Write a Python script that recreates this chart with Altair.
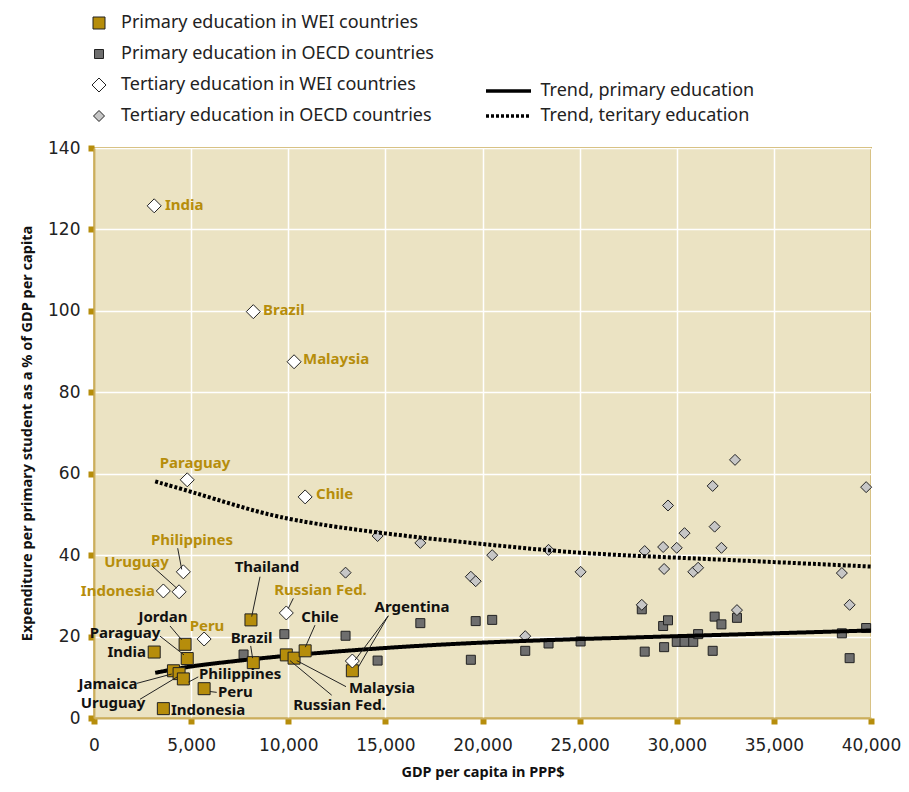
import altair as alt
import pandas as pd

# ---------------- data ----------------
groups = [
    "Primary education in WEI countries",
    "Primary education in OECD countries",
    "Tertiary education in WEI countries",
    "Tertiary education in OECD countries",
]
trends = ["Trend, primary education", "Trend, teritary education"]

wei_countries = ["India", "Indonesia", "Jamaica", "Uruguay", "Philippines", "Jordan", "Paraguay",
                 "Peru", "Thailand", "Brazil", "Russian Fed.", "Malaysia", "Chile", "Argentina"]
wei_gdp = [3100, 3570, 4090, 4380, 4600, 4690, 4800, 5670, 8080, 8200, 9900, 10300, 10870, 13300]
wei_primary = [16.2, 2.3, 11.6, 10.9, 9.6, 18.1, 14.6, 7.2, 24.1, 13.6, 15.5, 14.7, 16.5, 11.6]
wei_tertiary = [125.8, 31.2, None, 31.0, 35.9, None, 58.5, 19.4, None, 99.8, 25.8, 87.5, 54.3, 14.0]

oecd_primary_gdp = [7700, 9800, 12950, 14600, 16800, 19400, 19650, 20500, 22200, 23400, 25050,
                    28200, 28350, 29300, 29350, 29550, 30000, 30400, 30850, 31100, 31850, 31950,
                    32300, 33100, 38500, 38900, 39750]
oecd_primary = [15.6, 20.6, 20.2, 14.1, 23.3, 14.3, 23.8, 24.1, 16.5, 18.3, 18.8,
                26.7, 16.3, 22.6, 17.4, 24.0, 18.7, 18.7, 18.7, 20.6, 16.5, 24.9,
                23.0, 24.6, 20.8, 14.7, 22.1]

oecd_tertiary_gdp = [12950, 14600, 16800, 19400, 19650, 20500, 22200, 23400, 25050, 28200, 28350,
                     29300, 29350, 29550, 30000, 30400, 30850, 31100, 31850, 31950, 32300, 33000,
                     33100, 38500, 38900, 39750]
oecd_tertiary = [35.7, 44.7, 43.0, 34.7, 33.6, 40.0, 20.1, 41.3, 35.9, 27.8, 41.0,
                 42.0, 36.6, 52.2, 41.8, 45.4, 35.9, 36.9, 57.0, 47.0, 41.8, 63.4,
                 26.5, 35.6, 27.8, 56.7]

trend_gdp = [3150, 5000, 7500, 10000, 15000, 20000, 25000, 30000, 35000, 40000]
trend_primary = [11.1, 12.8, 14.1, 15.4, 17.3, 18.6, 19.4, 20.1, 20.8, 21.5]
trend_tertiary = [58.1, 55.6, 51.9, 48.6, 45.2, 42.7, 40.4, 39.4, 38.3, 37.2]

# annotation labels (data coordinates), colour kind, alignment
label_text = ["India", "Brazil", "Malaysia", "Chile", "Paraguay", "Philippines", "Uruguay",
              "Indonesia", "Russian Fed.", "Peru",
              "Thailand", "Jordan", "Paraguay", "India", "Jamaica", "Uruguay", "Philippines",
              "Peru", "Indonesia", "Brazil", "Chile", "Russian Fed.", "Malaysia", "Argentina"]
label_x = [3655, 8700, 10759, 11429, 5199, 5045, 2188, 3140, 11660, 5817,
           8906, 3552, 1596, 2677, 721, 978, 5405, 6384, 3964, 8108, 11634, 12638, 14826, 16371]
label_y = [126.0, 100.1, 88.2, 55.0, 62.6, 43.7, 38.3, 31.2, 31.4, 22.6,
           37.1, 24.8, 20.9, 16.2, 8.3, 3.8, 10.9, 6.3, 1.9, 19.7, 24.9, 3.2, 7.3, 27.3]
label_kind = ["gold"] * 10 + ["black"] * 14
label_align = ["left", "left", "left", "left", "center", "center", "center", "right", "center", "center",
               "center", "center", "center", "right", "center", "center", "left", "left", "left",
               "center", "center", "center", "center", "center"]

# leader lines (data coordinates)
lead_x1 = [4309, 2970, 10260, 8546, 3912, 3398, 2198, 2368, 5369, 5972, 8067, 11377, 12237, 12973, 15150, 15150]
lead_y1 = [41.7, 37.4, 29.4, 34.7, 22.6, 20.1, 8.5, 4.6, 10.1, 6.5, 17.7, 22.8, 5.6, 7.7, 25.1, 25.1]
lead_x2 = [4515, 4257, 10002, 8118, 4515, 4633, 4000, 4288, 4855, 6317, 8165, 10878, 10090, 10435, 13436, 13606]
lead_y2 = [36.5, 31.9, 26.9, 24.9, 19.2, 15.5, 10.8, 10.1, 8.8, 6.3, 14.7, 17.4, 14.1, 14.1, 14.2, 12.5]

# ---------------- tables ----------------
rows = []
for c, g, p, t in zip(wei_countries, wei_gdp, wei_primary, wei_tertiary):
    rows.append({"gdp": g, "value": p, "group": groups[0], "country": c})
    if t is not None:
        rows.append({"gdp": g, "value": t, "group": groups[2], "country": c})
for g, v in zip(oecd_primary_gdp, oecd_primary):
    rows.append({"gdp": g, "value": v, "group": groups[1], "country": ""})
for g, v in zip(oecd_tertiary_gdp, oecd_tertiary):
    rows.append({"gdp": g, "value": v, "group": groups[3], "country": ""})
points = pd.DataFrame(rows)
points["wei"] = points["group"].isin([groups[0], groups[2]])

trend_df = pd.DataFrame(
    [{"gdp": g, "value": v, "trend": trends[0]} for g, v in zip(trend_gdp, trend_primary)]
    + [{"gdp": g, "value": v, "trend": trends[1]} for g, v in zip(trend_gdp, trend_tertiary)]
)

labels = pd.DataFrame({"text": label_text, "gdp": label_x, "value": label_y,
                       "kind": label_kind, "align": label_align})
leaders = pd.DataFrame({"gdp": lead_x1, "value": lead_y1, "gdp2": lead_x2, "value2": lead_y2})

# ---------------- styles ----------------
GOLD = "#B68D0B"
AXIS_GOLD = "#CBAE5C"
fills = [GOLD, "#6E6E6E", "#FFFFFF", "#C6C6C6"]
# symbol outlines (unit = half of sqrt(size))
shapes = [
    "M-1.2,-1.2H1.2V1.2H-1.2Z",
    "M-0.9,-0.9H0.9V0.9H-0.9Z",
    "M0,-1.4L1.4,0L0,1.4L-1.4,0Z",
    "M0,-1.1L1.1,0L0,1.1L-1.1,0Z",
]

xs = alt.Scale(domain=[0, 40000], nice=False, zero=False)
ys = alt.Scale(domain=[0, 140], nice=False, zero=False)

x_axis = alt.Axis(values=list(range(0, 40001, 5000)), format=",.0f", labelFont="DejaVu Sans",
                  labelFontSize=17, labelColor="#222", labelPadding=13, labelFlush=False,
                  labelOverlap=False, labelBound=False,
                  tickColor=GOLD, tickWidth=6, tickSize=6, domainColor=AXIS_GOLD, domainWidth=2,
                  gridColor="white", gridWidth=1.5, titleFont="Noto Sans", titleFontWeight="bold",
                  titleFontSize=14.5, titleColor="#111", titlePadding=12)
y_axis = alt.Axis(values=list(range(0, 141, 20)), labelFont="DejaVu Sans", labelFontSize=17,
                  labelColor="#222", labelPadding=8, labelFlush=False, tickColor=GOLD, tickWidth=6,
                  tickSize=6, domainColor=AXIS_GOLD, domainWidth=2, gridColor="white", gridWidth=1.5,
                  titleFont="Noto Sans", titleFontWeight="bold", titleFontSize=14.5,
                  titleColor="#111", titlePadding=13)

X = alt.X("gdp:Q", scale=xs, axis=x_axis, title="GDP per capita in PPP$")
Y = alt.Y("value:Q", scale=ys, axis=y_axis,
          title="Expenditure per primary student as a % of GDP per capita")

pt_legend = alt.Legend(title=None, orient="none", legendX=-4, legendY=-134, labelFont="Noto Sans",
                       labelFontSize=18, labelColor="#222", rowPadding=13, labelOffset=13,
                       labelLimit=500, symbolSize=100,
                       symbolStrokeColor="#222", symbolStrokeWidth=1, padding=0)

def point_layer(flag):
    return alt.Chart(points).transform_filter(
        alt.datum.wei == flag
    ).mark_point(filled=True, stroke="#222", strokeWidth=1, opacity=1, size=100).encode(
        x=X, y=Y,
        color=alt.Color("group:N", scale=alt.Scale(domain=groups, range=fills), legend=pt_legend),
        shape=alt.Shape("group:N", scale=alt.Scale(domain=groups, range=shapes), legend=pt_legend),
    )

oecd_layer = point_layer(False)
wei_layer = point_layer(True)

trend_layer = alt.Chart(trend_df).mark_line(color="black", strokeWidth=4, interpolate="basis").encode(
    x=X, y=Y,
    strokeDash=alt.StrokeDash(
        "trend:N", scale=alt.Scale(domain=trends, range=[[1, 0], [3, 2]]),
        legend=alt.Legend(title=None, orient="none", legendX=405.5, legendY=-66,
                          symbolType="M-4.5,0H4.5", symbolSize=100, symbolStrokeWidth=3.5,
                          symbolStrokeColor="black", symbolFillColor="transparent",
                          labelFont="Noto Sans", labelFontSize=18, labelColor="#222",
                          labelLimit=500, rowPadding=7, labelOffset=23, padding=0),
    ),
)

leader_layer = alt.Chart(leaders).mark_rule(color="#222", strokeWidth=1).encode(
    x=X, y=Y,
    x2="gdp2:Q",
    y2="value2:Q",
)

text_layers = []
for kind, col in [("gold", GOLD), ("black", "#111111")]:
    for al in ["left", "center", "right"]:
        text_layers.append(
            alt.Chart(labels).transform_filter(
                (alt.datum.kind == kind) & (alt.datum.align == al)
            ).mark_text(align=al, baseline="middle", font="Noto Sans", fontWeight="bold",
                        fontSize=15, color=col).encode(
                x=X, y=Y,
                text="text:N",
            )
        )

chart = alt.layer(oecd_layer, trend_layer, wei_layer, leader_layer, *text_layers).properties(
    width=777, height=570,
    autosize=alt.AutoSizeParams(type="none"),
    padding={"left": 86, "top": 140, "right": 30, "bottom": 66},
    background="white",
).configure_view(fill="#EBE3C3", stroke=AXIS_GOLD, strokeWidth=2)

chart.save("out.html", embed_options={"renderer": "svg", "actions": False})
